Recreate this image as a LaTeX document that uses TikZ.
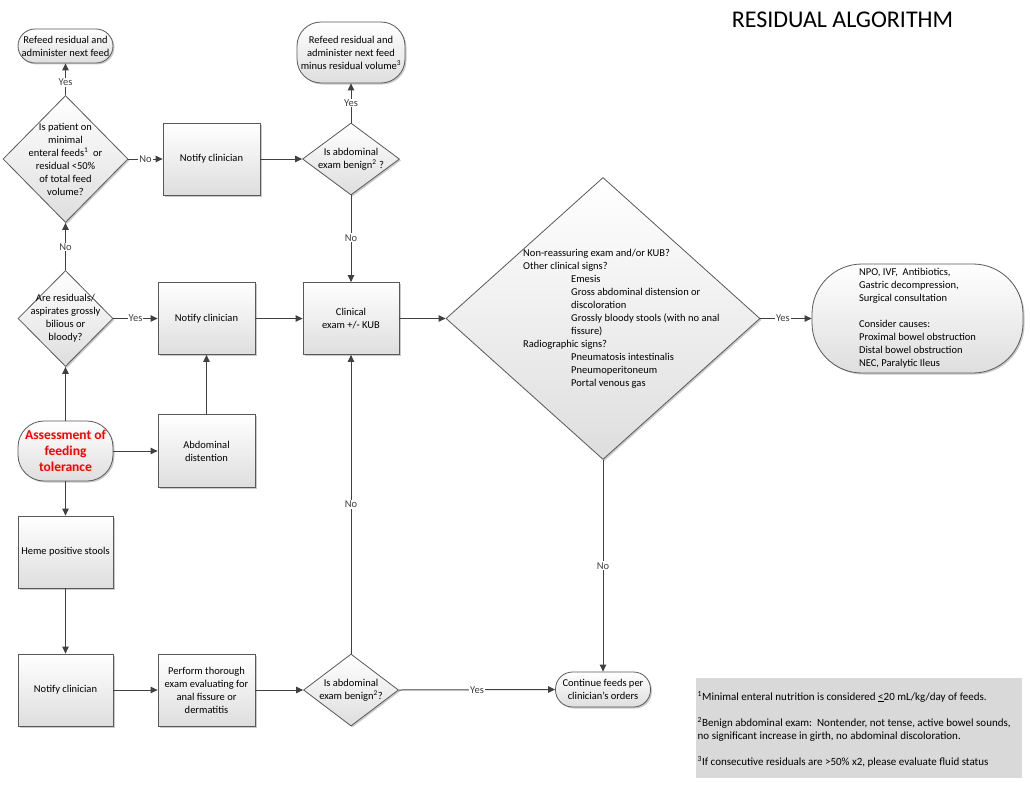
\documentclass[tikz,border=0pt]{standalone}
\usepackage{fontspec}
\setmainfont{Carlito}
\usetikzlibrary{shapes.geometric,shadows,arrows.meta}

\begin{document}
\begin{tikzpicture}[%
      x=1pt, y=-1pt,
      font=\fontsize{10.5}{13}\selectfont,
      every node/.style={inner sep=0pt, align=center},
      shapebase/.style={draw=black!65, line width=0.8pt, top color=white, bottom color=black!13,
        drop shadow={shadow xshift=1.5pt, shadow yshift=-1.5pt, fill=black!35, opacity=0.6}},
      procbox/.style={shapebase, rectangle, minimum width=96pt, minimum height=72pt},
      decision/.style={shapebase, diamond},
      terminal/.style={shapebase, rectangle},
      flow/.style={color=black!75, line width=1pt, -{Triangle[length=7pt,width=6.5pt]}},
      answer/.style={fill=white, inner sep=1pt},
      ]
      \useasboundingbox (0,0) rectangle (1030,784);

      \node[font=\fontsize{24}{29}\selectfont] (title) at (842.5,19.5) {RESIDUAL ALGORITHM};

      % left column
      \node[terminal, rounded corners=17pt, minimum width=95pt, minimum height=34pt] (refeed) at (65.5,46)
        {Refeed residual and\\administer next feed};
      \node[decision, minimum width=125pt, minimum height=127pt] (minfeed) at (65.5,159) {};
      \node (minfeedtxt) at (minfeed) {Is patient on\\minimal\\enteral feeds\textsuperscript{1}\ \ or\\residual <50\%\\of total feed\\volume?};
      \node[decision, minimum width=95pt, minimum height=96pt] (bilious) at (65.5,318.5) {};
      \node (bilioustxt) at (bilious) {Are residuals/\\aspirates grossly\\bilious or\\bloody?};
      \node[terminal, rounded corners=26pt, minimum width=95pt, minimum height=60pt,
        font=\fontsize{13.5}{16}\selectfont\bfseries, text=red] (assess) at (65.5,451)
        {Assessment of\\feeding\\tolerance};
      \node[procbox, minimum width=95pt] (heme) at (65.5,552) {Heme positive stools};
      \node[procbox, minimum width=95pt] (notifyc) at (65.5,690) {Notify clinician};

      % second column
      \node[procbox, minimum width=97pt] (notifya) at (211.5,159) {Notify clinician};
      \node[procbox, minimum width=97pt] (notifyb) at (206.5,318.5) {Notify clinician};
      \node[procbox, minimum width=97pt, minimum height=73pt] (distend) at (206.5,451) {Abdominal\\distention};
      \node[procbox, minimum width=97pt] (thorough) at (206.5,690)
        {Perform thorough\\exam evaluating for\\anal fissure or\\dermatitis};

      % third column
      \node[terminal, rounded corners=24pt, minimum width=108pt, minimum height=61pt] (refeedminus) at (351,52.5)
        {Refeed residual and\\administer next feed\\minus residual volume\textsuperscript{3}};
      \node[decision, minimum width=97pt, minimum height=72pt] (benigna) at (351,159) {};
      \node (benignatxt) at (benigna) {Is abdominal\\exam benign\textsuperscript{2} ?};
      \node[procbox] (clinical) at (351,318.5) {Clinical\\exam +/- KUB};
      \node[decision, minimum width=95pt, minimum height=72pt] (benignb) at (351,690) {};
      \node (benignbtxt) at (benignb) {Is abdominal\\exam benign\textsuperscript{2}?};

      % big decision and outcomes
      \node[decision, minimum width=314pt, minimum height=282pt] (signs) at (603,318.5) {};
      \node[anchor=north west, align=left] (signstxt) at (523,249)
        {Non-reassuring exam and/or KUB?\\
         Other clinical signs?\\
         \hspace*{48pt}Emesis\\
         \hspace*{48pt}Gross abdominal distension or\\
         \hspace*{48pt}discoloration\\
         \hspace*{48pt}Grossly bloody stools (with no anal\\
         \hspace*{48pt}fissure)\\
         Radiographic signs?\\
         \hspace*{48pt}Pneumatosis intestinalis\\
         \hspace*{48pt}Pneumoperitoneum\\
         \hspace*{48pt}Portal venous gas};
      \node[terminal, rounded corners=50pt, minimum width=211pt, minimum height=109pt, align=left] (surgery) at (917.5,318.5)
        {NPO, IVF,\ \ Antibiotics,\\
         Gastric decompression,\\
         Surgical consultation\\[13pt]
         Consider causes:\\
         Proximal bowel obstruction\\
         Distal bowel obstruction\\
         NEC, Paralytic Ileus};
      \node[terminal, rounded corners=17pt, minimum width=95pt, minimum height=35pt] (continue) at (603,689.5)
        {Continue feeds per\\clinician’s orders};

      % footnotes
      \node[fill=black!15, minimum width=326pt, minimum height=100pt] (notesbox) at (859,728) {};
      \node[anchor=north west, align=left, font=\fontsize{11}{13}\selectfont] (notes) at (697.5,691)
        {\textsuperscript{1}Minimal enteral nutrition is considered \underline{<}20 mL/kg/day of feeds.\\[13pt]
         \textsuperscript{2}Benign abdominal exam:\ \ Nontender, not tense, active bowel sounds,\\
         no significant increase in girth, no abdominal discoloration.\\[13pt]
         \textsuperscript{3}If consecutive residuals are >50\% x2, please evaluate fluid status};

      % connectors
      \draw[flow] (minfeed.north) -- node[answer, pos=0.4] (yesa) {Yes} (refeed.south);
      \draw[flow] (minfeed.east) -- node[answer, pos=0.5] (noa) {No} (notifya.west);
      \draw[flow] (notifya.east) -- (benigna.west);
      \draw[flow] (benigna.north) -- node[answer, pos=0.5] (yesb) {Yes} (refeedminus.south);
      \draw[flow] (benigna.south) -- node[answer, pos=0.49] (nob) {No} (clinical.north);
      \draw[flow] (bilious.north) -- node[answer, pos=0.49] (noc) {No} (minfeed.south);
      \draw[flow] (bilious.east) -- node[answer, pos=0.5] (yesc) {Yes} (notifyb.west);
      \draw[flow] (notifyb.east) -- (clinical.west);
      \draw[flow] (clinical.east) -- (signs.west);
      \draw[flow] (signs.east) -- node[answer, pos=0.44] (yesd) {Yes} (surgery.west);
      \draw[flow] (signs.south) -- node[answer, pos=0.5] (nod) {No} (continue.north);
      \draw[flow] (assess.north) -- (bilious.south);
      \draw[flow] (assess.east) -- (distend.west);
      \draw[flow] (distend.north) -- (notifyb.south);
      \draw[flow] (assess.south) -- (heme.north);
      \draw[flow] (heme.south) -- (notifyc.north);
      \draw[flow] (notifyc.east) -- (thorough.west);
      \draw[flow] (thorough.east) -- (benignb.west);
      \draw[flow] (benignb.north) -- node[answer, pos=0.5] (noe) {No} (clinical.south);
      \draw[flow] (benignb.east) -- node[answer, pos=0.5] (yese) {Yes} (continue.west);
\end{tikzpicture}
\end{document}
